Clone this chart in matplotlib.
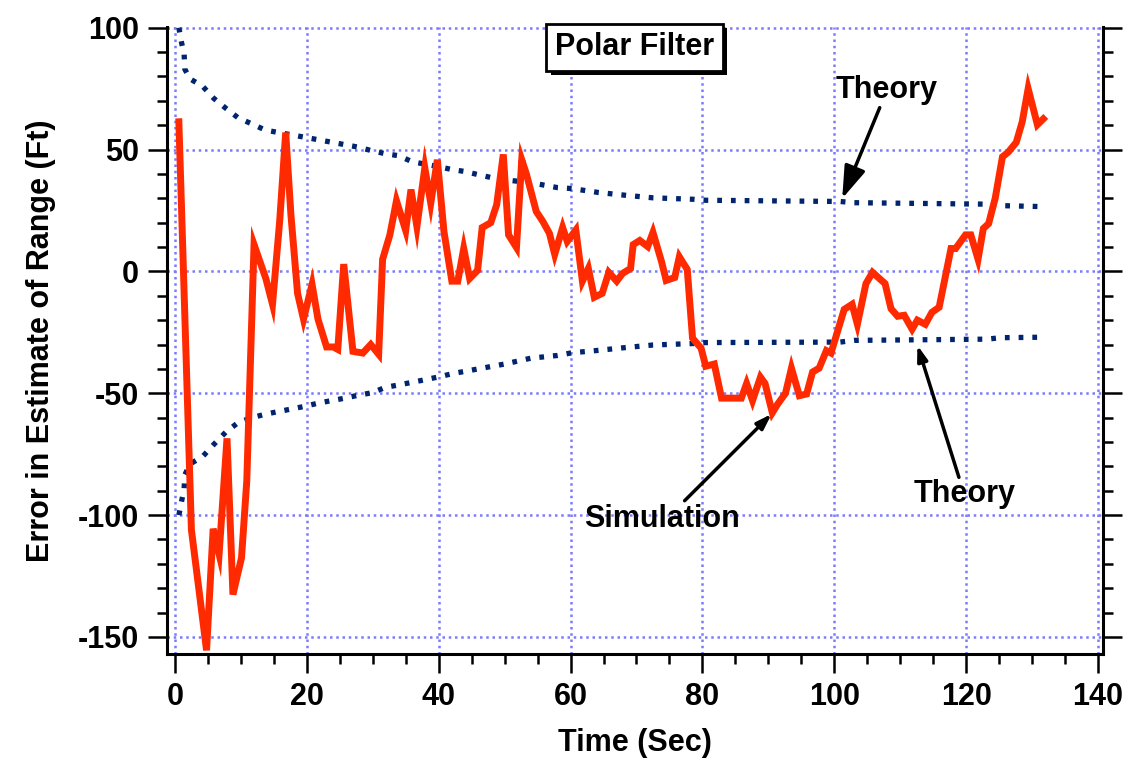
import matplotlib
matplotlib.use("Agg")
import matplotlib.pyplot as plt
import matplotlib.patheffects as pe
from matplotlib.ticker import MultipleLocator

plt.rcParams['font.family'] = ['Liberation Sans', 'DejaVu Sans']
plt.rcParams['font.weight'] = 'bold'
plt.rcParams['axes.unicode_minus'] = False

# simulation error (ft) vs time (sec)
sim_t = [0.6, 2.5, 4.8, 5.8, 6.7, 7.9, 8.8, 10.1, 10.9,
         12.0, 12.9, 13.8, 14.8, 15.9, 16.8, 17.6, 18.6, 19.5, 20.8,
         21.7, 23.0, 24.0, 24.7, 25.6, 27.0, 28.5, 29.7, 30.9, 31.5,
         32.6, 33.6, 35.0, 35.8, 36.7, 37.9, 38.8, 39.8, 40.8, 42.0,
         42.9, 43.8, 44.7, 45.9, 46.6, 47.9, 48.8, 49.8, 50.6, 51.8,
         52.6, 53.3, 54.8, 55.8, 56.8, 57.6, 58.8, 59.5, 60.8, 61.8,
         62.7, 63.6, 64.8, 65.8, 67.0, 67.9, 69.1, 69.5, 70.5, 71.7,
         72.5, 73.8, 74.5, 75.8, 76.5, 77.7, 78.5, 79.8, 80.5, 81.8,
         82.9, 85.9, 86.7, 87.6, 88.8, 89.5, 90.6, 91.4, 92.6, 93.5,
         94.7, 95.8, 96.7, 97.7, 98.8, 99.5, 101.5, 102.7, 103.5, 104.8,
         105.8, 107.7, 108.6, 109.6, 110.6, 111.8, 112.6, 113.8, 114.8, 115.9,
         117.7, 118.4, 119.9, 120.7, 121.8, 122.6, 123.4, 124.4, 125.5, 126.4,
         127.6, 128.5, 129.4, 130.8, 131.7]
sim_err = [61.4, -106, -155.5, -105.6, -116, -68.5, -132.6, -117.5, -86,
           11, 4, -3, -13.5, 21, 57, 23, -9, -19.6, -5.3,
           -19.6, -31, -31, -32, 3, -32.8, -33.5, -30, -34, 5,
           15, 29, 16.8, 33.6, 18.4, 42.5, 28, 45.8, 16.4, -4,
           -4, 9.4, -2.9, 0.4, 18, 20, 27.4, 48, 15, 9.8,
           45.8, 40, 24.6, 20.5, 15.6, 7, 18, 12.3, 17, -4,
           1.2, -10.6, -9, -0.4, -4, -0.8, 1.2, 11, 12.7, 10.2,
           16, 4, -3.7, -2.5, 6, 0.8, -27.4, -31.5, -38.9, -38,
           -52, -52, -46, -53, -43.4, -46, -58, -54.5, -50, -39.7,
           -51, -50.3, -41.3, -39.7, -32.5, -33.5, -15.6, -13.5, -21.7, -5,
           -0.4, -5, -15.3, -18.4, -18, -23.7, -20, -21.7, -16.8, -14.7,
           9.4, 9.4, 15, 15, 5, 17.6, 19.6, 30, 47, 49,
           53, 61.4, 75, 60.2, 62.6]

# theoretical error bounds
th_t = [0.6, 1.0, 1.4, 1.5, 2.3, 4.2, 5.9, 7.7, 9.6, 11.7,
        13.7, 15.7, 17.8, 19.8, 21.8, 23.8, 25.8, 27.8, 29.9, 31.9,
        33.9, 36.0, 38.0, 40.0, 42.0, 44.0, 46.0, 48.0, 50.0, 54.0,
        58.0, 60.2, 64.2, 68.5, 72.5, 78.6, 80.5, 100.9, 103.0, 123.2,
        125.2, 131.5]
th_hi = [100, 94, 89, 83, 79, 76, 71, 67, 63, 60.5,
         58, 57, 56, 55, 54, 53, 52, 51, 49.5, 48.3,
         47.5, 45, 44, 43, 41.8, 41, 39.7, 38.5, 37.6, 36.4,
         34.4, 34.0, 32.4, 31.2, 30.2, 29.6, 29.2, 28.7, 28.2, 27.6,
         27.0, 26.6]
th_lo = [-100, -94.5, -89, -83.5, -79, -76, -71, -66, -62, -60,
         -58.6, -57.5, -56.4, -55.3, -54, -53, -52, -50.8, -49.8, -47.6,
         -46.6, -45.5, -44.4, -43.3, -42, -41, -40, -39, -38, -35.6,
         -34.5, -33.4, -32.4, -31.2, -30.2, -29.6, -29.2, -29, -28.3, -27.8,
         -27.2, -27]

RED = '#ff2a00'
NAVY = '#00246e'
GRID = '#7b7bff'

fig = plt.figure(figsize=(11.27, 7.59), dpi=100)
ax = fig.add_axes([167 / 1127, 1 - 654 / 759, (1103 - 167) / 1127, (654 - 27) / 759])

ax.plot(th_t, th_hi, color=NAVY, lw=3.8, linestyle=(0, (0.9, 1.7)), clip_on=False, zorder=3)
ax.plot(th_t, th_lo, color=NAVY, lw=3.8, linestyle=(0, (0.9, 1.7)), clip_on=False, zorder=3)
ax.plot(sim_t, sim_err, color=RED, lw=5, solid_joinstyle='miter', zorder=4)

ax.set_xlim(-1.2, 140.75)
ax.set_ylim(-157, 100.3)

ax.xaxis.set_major_locator(MultipleLocator(20))
ax.xaxis.set_minor_locator(MultipleLocator(5))
ax.yaxis.set_major_locator(MultipleLocator(50))
ax.yaxis.set_minor_locator(MultipleLocator(10))

ax.grid(True, which='major', color=GRID, linestyle=(0, (1, 1.5)), lw=1.8)
ax.set_axisbelow(True)

ax.spines['top'].set_visible(False)
for s in ['left', 'right', 'bottom']:
    ax.spines[s].set_linewidth(2.2)

ax.tick_params(which='both', direction='out', width=1.8, right=True, labelsize=22, pad=6)
ax.tick_params(which='major', length=14)
ax.tick_params(which='minor', length=7)

ax.set_xlabel('Time (Sec)', fontsize=22, fontweight='bold', labelpad=12)
ax.set_ylabel('Error in Estimate of Range (Ft)', fontsize=22, fontweight='bold', labelpad=16)

t = ax.text(69.7, 92, 'Polar Filter', fontsize=22, fontweight='bold', ha='center', va='center',
            bbox=dict(boxstyle='square,pad=0.28', fc='white', ec='black', lw=2), zorder=6)
t.get_bbox_patch().set_path_effects([pe.withSimplePatchShadow(offset=(3, -3), shadow_rgbFace='black', alpha=1)])

arrow = dict(arrowstyle='-|>,head_length=0.9,head_width=0.3', lw=2.5, color='black', shrinkA=0, shrinkB=0)
ax.annotate('Theory', xy=(101.2, 29.9), xytext=(108, 74.5), fontsize=22, fontweight='bold',
            ha='center', va='center', arrowprops=arrow, zorder=6)
ax.annotate('', xy=(112.6, -30.3), xytext=(118.9, -84.5), arrowprops=arrow, zorder=6)
ax.text(119.8, -91.3, 'Theory', fontsize=22, fontweight='bold', ha='center', va='center', zorder=6)
ax.annotate('', xy=(90.5, -58.5), xytext=(77.3, -94.1), arrowprops=arrow, zorder=6)
ax.text(73.9, -101.5, 'Simulation', fontsize=22, fontweight='bold', ha='center', va='center', zorder=6)

fig.savefig('out.png', dpi=100)
